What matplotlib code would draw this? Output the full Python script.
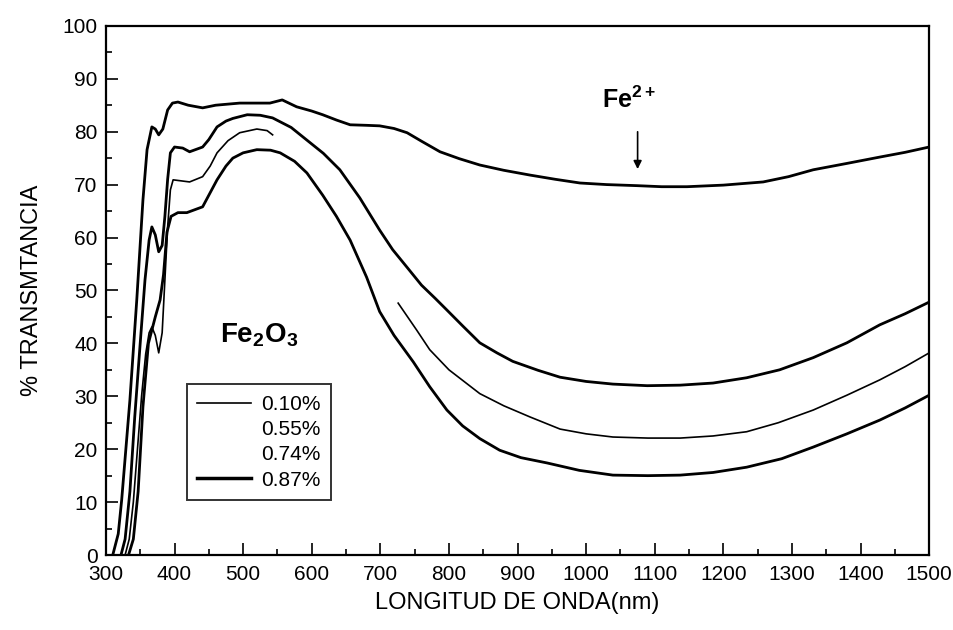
import numpy as np
import matplotlib
matplotlib.use("Agg")
import matplotlib.pyplot as plt
from matplotlib.ticker import MultipleLocator

# espectros de transmitancia
wl_010 = [310, 318, 323, 335, 345, 354, 360, 367, 372, 377, 383, 390, 397, 405, 420, 441, 460, 495,
          539, 557, 578, 600, 616, 636, 656, 680, 699, 720, 739, 760, 787, 815, 845, 880, 918, 955,
          991, 1030, 1074, 1110, 1147, 1200, 1258, 1295, 1331, 1380, 1428, 1465, 1500]
t_010 = [0, 4, 10.4, 29.3, 48.2, 67.1, 76.6, 80.9, 80.5, 79.4, 80.5, 84.1, 85.4, 85.6, 85.0, 84.5, 85.0, 85.4,
         85.4, 86.0, 84.7, 83.9, 83.2, 82.2, 81.3, 81.2, 81.1, 80.6, 79.8, 78.2, 76.2, 74.9, 73.7, 72.7, 71.8, 71.0,
         70.3, 70.0, 69.8, 69.6, 69.6, 69.9, 70.5, 71.5, 72.8, 74.0, 75.2, 76.1, 77.1]

wl_055 = [322, 328, 335, 342, 350, 357, 363, 367, 372, 377, 382, 386, 390, 394, 400, 412, 422, 441, 450, 462,
          475, 485, 506, 525, 543, 570, 593, 617, 641, 670, 699, 718, 740, 760, 780, 797, 820, 845, 870, 893,
          930, 962, 1000, 1039, 1089, 1137, 1185, 1234, 1282, 1331, 1380, 1428, 1465, 1500]
t_055 = [0, 3, 12, 26, 40, 52, 59.5, 62, 60.5, 57.3, 58.5, 64, 71, 76, 77.1, 76.9, 76.2, 77.1, 78.5, 80.9,
         82.0, 82.5, 83.2, 83.1, 82.6, 80.8, 78.4, 75.9, 72.8, 67.5, 61.4, 57.7, 54.2, 51, 48.5, 46.3, 43.3, 40.1, 38.2, 36.6,
         34.9, 33.6, 32.8, 32.3, 32.0, 32.1, 32.5, 33.5, 35.0, 37.3, 40.1, 43.5, 45.6, 47.8]

wl_074 = [328, 334, 340, 346, 352, 358, 363, 367, 372, 377, 382, 386, 390, 394, 398, 422, 441, 452, 462, 478,
          495, 520, 535, 543, np.nan, 726, 753, 772, 800, 845, 880, 918, 962, 1000, 1039, 1090, 1137, 1185,
          1234, 1280, 1331, 1380, 1428, 1465, 1500]
t_074 = [0, 3, 10, 20, 30, 38, 42, 43.1, 41.5, 38.2, 42, 52, 62, 69, 70.9, 70.5, 71.5, 73.5, 76.0, 78.3,
         79.8, 80.5, 80.2, 79.4, np.nan, 47.6, 42.5, 38.8, 35, 30.5, 28.2, 26.1, 23.8, 22.9, 22.3, 22.1, 22.1, 22.5,
         23.3, 25.0, 27.4, 30.2, 33.1, 35.6, 38.2]

wl_087 = [333, 340, 347, 354, 362, 372, 379, 384, 389, 395, 405, 418, 441, 462, 475, 485, 500, 520, 540, 554,
          575, 593, 616, 636, 656, 680, 699, 720, 748, 772, 797, 820, 845, 874, 905, 943, 990, 1039, 1090, 1137,
          1185, 1234, 1285, 1331, 1380, 1428, 1465, 1500]
t_087 = [0, 3, 12, 28, 40, 45, 48.2, 53, 61, 64, 64.7, 64.7, 65.8, 70.9, 73.5, 75.0, 76.0, 76.6, 76.5, 76.0,
         74.4, 72.2, 68, 64, 59.5, 52.5, 46, 41.5, 36.5, 31.8, 27.4, 24.4, 22.0, 19.8, 18.4, 17.4, 16.0, 15.1, 15.0, 15.1,
         15.6, 16.6, 18.2, 20.4, 22.9, 25.5, 27.8, 30.2]

labels = ["0.10%", "0.55%", "0.74%", "0.87%"]

plt.rcParams['font.family'] = ["Liberation Sans", "DejaVu Sans"]
plt.rcParams['mathtext.fontset'] = 'custom'
plt.rcParams['mathtext.rm'] = 'Liberation Sans'
plt.rcParams['mathtext.bf'] = 'Liberation Sans:bold'

fig = plt.figure(figsize=(9.54, 6.3), dpi=100)
ax = fig.add_axes([0.111, 0.119, 0.863, 0.840])

l1, = ax.plot(wl_010, t_010, color='k', lw=2.0, label=labels[0])
l2, = ax.plot(wl_055, t_055, color='k', lw=2.0, label=labels[1])
l3, = ax.plot(wl_074, t_074, color='k', lw=1.2, label=labels[2])
l4, = ax.plot(wl_087, t_087, color='k', lw=2.0, label=labels[3])

ax.set_xlim(300, 1500)
ax.set_ylim(0, 100)
ax.xaxis.set_major_locator(MultipleLocator(100))
ax.xaxis.set_minor_locator(MultipleLocator(50))
ax.yaxis.set_major_locator(MultipleLocator(10))
ax.yaxis.set_minor_locator(MultipleLocator(5))
ax.tick_params(which='both', direction='in', top=False, right=False, width=1.2, labelsize=15)
ax.tick_params(which='major', length=8.5)
ax.tick_params(which='minor', length=4.5)
ax.tick_params(axis='x', pad=7)
ax.tick_params(axis='y', pad=6)
for s in ax.spines.values():
    s.set_linewidth(1.6)

ax.set_xlabel("LONGITUD DE ONDA(nm)", fontsize=17, labelpad=6)
ax.set_ylabel("% TRANSMTANCIA", fontsize=17, labelpad=14)

ax.text(524, 41.6, r"$\mathbf{Fe_2O_3}$", fontsize=20, ha='center', va='center')
ax.text(1063, 86, r"$\mathbf{Fe^{2+}}$", fontsize=18, ha='center', va='center')
ax.annotate('', xy=(1075, 72.4), xytext=(1075, 80.5),
            arrowprops=dict(arrowstyle='-|>', color='k', lw=1.2, mutation_scale=12))

leg = ax.legend(handles=[l1, l2, l3, l4], loc='lower left', bbox_to_anchor=(0.098, 0.104),
                borderaxespad=0, fontsize=15, frameon=True, fancybox=False, edgecolor='k',
                handlelength=2.6, handletextpad=0.5, labelspacing=0.3, borderpad=0.5)
leg.get_frame().set_linewidth(1.4)
leg.get_lines()[0].set_linewidth(1.2)
leg.get_lines()[1].set_visible(False)
leg.get_lines()[2].set_visible(False)
leg.get_lines()[3].set_linewidth(2.5)

plt.savefig("out.png", dpi=100)
